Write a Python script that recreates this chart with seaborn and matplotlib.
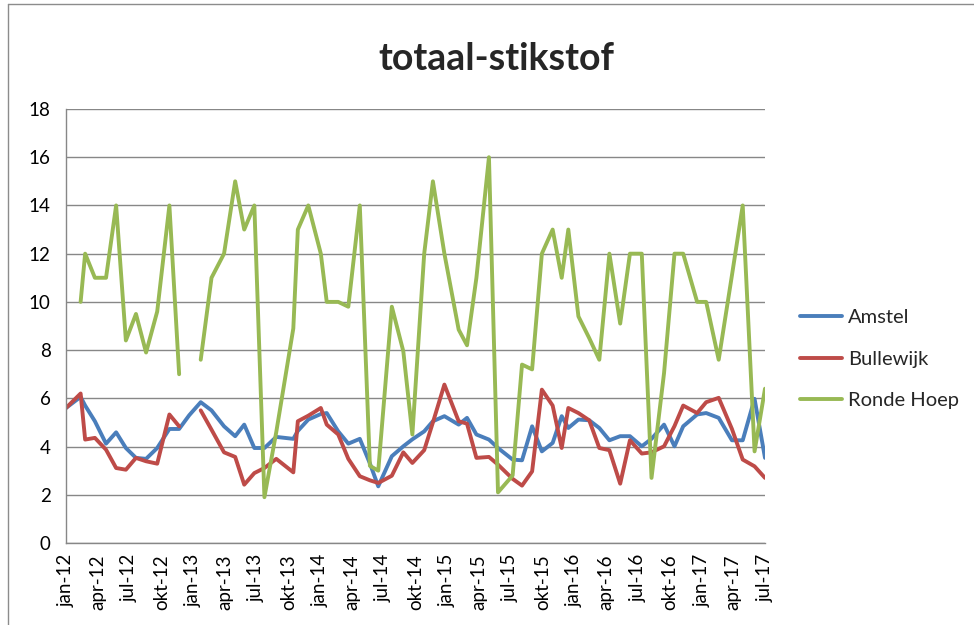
import matplotlib
matplotlib.use("Agg")
import matplotlib.pyplot as plt
import matplotlib.dates as mdates
from matplotlib.lines import Line2D
from matplotlib.ticker import FuncFormatter, MultipleLocator
import numpy as np
import pandas as pd
import seaborn as sns

nan = np.nan

dates = [
    "2012-01-01", "2012-02-12", "2012-02-25", "2012-03-24", "2012-04-25", "2012-05-24",
    "2012-06-21", "2012-07-20", "2012-08-18", "2012-09-19", "2012-10-24", "2012-11-21",
    "2012-12-20", "2013-01-22", "2013-02-22", "2013-03-30", "2013-05-01", "2013-05-27",
    "2013-06-25", "2013-07-24", "2013-08-27", "2013-10-15", "2013-10-28", "2013-11-27",
    "2014-01-02", "2014-01-19", "2014-02-21", "2014-03-22", "2014-04-24", "2014-05-23",
    "2014-06-16", "2014-07-25", "2014-08-27", "2014-09-22", "2014-10-26", "2014-11-20",
    "2014-12-23", "2015-02-02", "2015-02-26", "2015-03-25", "2015-04-30", "2015-05-26",
    "2015-07-07", "2015-08-03", "2015-09-01", "2015-09-29", "2015-10-30", "2015-11-25",
    "2015-12-14", "2016-01-12", "2016-02-12", "2016-03-12", "2016-04-10", "2016-05-11",
    "2016-06-08", "2016-07-12", "2016-08-09", "2016-09-14", "2016-10-14", "2016-11-08",
    "2016-12-18", "2017-01-13", "2017-02-18", "2017-03-28", "2017-04-28", "2017-06-01",
    "2017-07-01",
]

amstel = [
    5.60, 6.06, 5.70, 5.05, 4.12, 4.59, 3.94, 3.53, 3.49, 3.94, 4.73, 4.73,
    5.30, 5.84, 5.50, 4.84, 4.43, 4.91, 3.94, 3.94, 4.40, 4.32, 4.65, 5.12,
    5.35, 5.39, 4.63, 4.12, 4.32, 3.30, 2.35, 3.60, 4.01, 4.30, 4.63, 5.05,
    5.26, 4.91, 5.19, 4.50, 4.29, 3.94, 3.46, 3.43, 4.84, 3.80, 4.15, 5.26,
    4.77, 5.12, 5.09, 4.77, 4.26, 4.43, 4.43, 4.01, 4.32, 4.91, 4.01, 4.84,
    5.33, 5.39, 5.19, 4.26, 4.26, 5.98, 3.53,
]

bullewijk = [
    5.60, 6.20, 4.29, 4.36, 3.87, 3.11, 3.04, 3.53, 3.39, 3.29, 5.33, 4.84,
    nan, 5.50, 4.70, 3.76, 3.57, 2.42, 2.90, 3.11, 3.49, 2.93, 5.05, 5.28,
    5.60, 4.91, 4.50, 3.49, 2.77, 2.60, 2.49, 2.79, 3.76, 3.32, 3.85, 5.00,
    6.57, 5.05, 4.95, 3.53, 3.57, 3.25, 2.66, 2.38, 2.97, 6.36, 5.70, 3.94,
    5.60, 5.39, 5.09, 3.94, 3.85, 2.46, 4.26, 3.71, 3.76, 4.01, 4.85, 5.70,
    5.39, 5.84, 6.02, 4.73, 3.46, 3.18, 2.70,
]

ronde_hoep = [
    nan, 10.0, 12.0, 11.0, 11.0, 14.0, 8.4, 9.5, 7.9, 9.6, 14.0, 7.0,
    nan, 7.6, 11.0, 12.0, 15.0, 13.0, 14.0, 1.9, 4.6, 8.9, 13.0, 14.0,
    12.0, 10.0, 10.0, 9.8, 14.0, 3.2, 3.0, 9.8, 7.95, 4.5, 12.0, 15.0,
    12.0, 8.85, 8.2, 11.0, 16.0, 2.1, 2.8, 7.4, 7.2, 12.0, 13.0, 11.0,
    13.0, 9.4, 8.5, 7.6, 12.0, 9.1, 12.0, 12.0, 2.7, 7.05, 12.0, 12.0,
    10.0, 10.0, 7.6, 11.1, 14.0, 3.8, 6.4,
]

series_names = ["Amstel", "Bullewijk", "Ronde Hoep"]
colors = ["#4A7EBB", "#BE4B48", "#98B954"]
dutch_months = ["jan", "feb", "mrt", "apr", "mei", "jun",
                "jul", "aug", "sep", "okt", "nov", "dec"]

wide = pd.DataFrame({"datum": pd.to_datetime(dates), "Amstel": amstel,
                     "Bullewijk": bullewijk, "Ronde Hoep": ronde_hoep})
df = wide.melt(id_vars="datum", var_name="meetpunt", value_name="waarde")
# split each series at missing values so the gaps stay visible
df["segment"] = df.groupby("meetpunt")["waarde"].transform(lambda s: s.isna().cumsum())
df = df.dropna(subset=["waarde"])

sns.set_style("white")
plt.rcParams["font.family"] = ["Lato", "DejaVu Sans"]

fig = plt.figure(figsize=(9.74, 6.25), dpi=100)
ax = fig.add_axes([66 / 974, 1 - 543 / 625, (765 - 66) / 974, (543 - 109) / 625])

sns.lineplot(data=df, x="datum", y="waarde", hue="meetpunt", units="segment",
             estimator=None, hue_order=series_names, palette=colors,
             linewidth=2.8, ax=ax, legend=False)

ax.set_xlim(pd.Timestamp("2012-01-01"), pd.Timestamp("2017-07-01"))
ax.set_ylim(0, 18)
ax.yaxis.set_major_locator(MultipleLocator(2))
ax.xaxis.set_major_locator(mdates.MonthLocator(bymonth=[1, 4, 7, 10]))
ax.xaxis.set_major_formatter(FuncFormatter(
    lambda v, pos: "%s-%02d" % (dutch_months[mdates.num2date(v).month - 1],
                                mdates.num2date(v).year % 100)))
ax.set_xlabel("")
ax.set_ylabel("")

ax.grid(axis="y", color="#878787", linewidth=1.0)
ax.set_axisbelow(True)
for side in ["top", "right"]:
    ax.spines[side].set_visible(False)
for side in ["left", "bottom"]:
    ax.spines[side].set_color("#878787")
    ax.spines[side].set_linewidth(1.0)
ax.tick_params(axis="both", direction="out", length=5, width=1.0,
               color="#878787", labelsize=13.5, labelcolor="black")
ax.tick_params(axis="x", labelrotation=90, pad=3)
ax.tick_params(axis="y", pad=6)

fig.text(0.51, 0.905, "totaal-stikstof", ha="center", va="center",
         fontsize=27, fontweight="bold")

handles = [Line2D([], [], color=c, linewidth=2.8) for c in colors]
fig.legend(handles, series_names, loc="center left",
           bbox_to_anchor=(800 / 974, 1 - 359 / 625), frameon=False,
           fontsize=14.5, handlelength=2.1, handletextpad=0.3,
           labelspacing=1.2, borderpad=0, borderaxespad=0)

# outer chart frame (only left and top edges are visible in the crop)
fig.add_artist(Line2D([8 / 974, 8 / 974], [0, 1 - 4 / 625], color="#8c8c8c",
                      linewidth=1.0, transform=fig.transFigure))
fig.add_artist(Line2D([8 / 974, 1], [1 - 4 / 625, 1 - 4 / 625], color="#8c8c8c",
                      linewidth=1.0, transform=fig.transFigure))

fig.savefig("out.png", dpi=100)
